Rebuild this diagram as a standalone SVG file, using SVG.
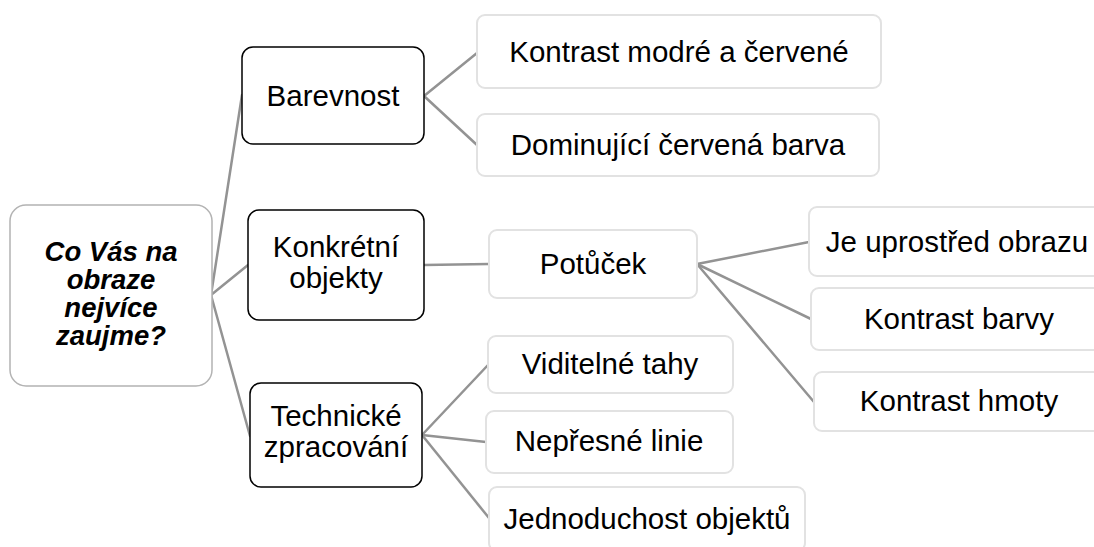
<svg xmlns="http://www.w3.org/2000/svg" width="1094" height="547" viewBox="0 0 1094 547">
<style>
.bg{fill:#ffffff}
.root{fill:#ffffff;stroke:#b3b3b3;stroke-width:1.5}
.dark{fill:#ffffff;stroke:#000000;stroke-width:1.5}
.light{fill:#ffffff;stroke:#e2e2e2;stroke-width:2}
.t{font-family:"Liberation Sans",Arial,sans-serif;font-size:29.5px;fill:#000000;text-anchor:middle}
.rt{font-family:"Liberation Sans",Arial,sans-serif;font-size:27.5px;font-weight:bold;font-style:italic;fill:#000000;text-anchor:middle}
.conn line{stroke:#939393;stroke-width:2.5;stroke-linecap:round}
</style>
<rect class="bg" x="0" y="0" width="1094" height="547"/>
<g id="connectors" class="conn">
<line x1="211" y1="295" x2="242" y2="95"/>
<line x1="211" y1="295" x2="248" y2="265"/>
<line x1="211" y1="295" x2="250" y2="436"/>
<line x1="424" y1="96" x2="477" y2="53"/>
<line x1="424" y1="96" x2="477" y2="145"/>
<line x1="424" y1="265" x2="489" y2="264"/>
<line x1="697" y1="264" x2="809" y2="242"/>
<line x1="697" y1="264" x2="811" y2="319"/>
<line x1="697" y1="264" x2="814" y2="402"/>
<line x1="422" y1="435" x2="488" y2="365"/>
<line x1="422" y1="435" x2="486" y2="442"/>
<line x1="422" y1="435" x2="489" y2="518"/>
</g>
<g id="root">
<rect class="root" x="10" y="205" width="202" height="181" rx="16"/>
<text class="rt" x="111" y="261">Co Vás na</text>
<text class="rt" x="111" y="289">obraze</text>
<text class="rt" x="111" y="317">nejvíce</text>
<text class="rt" x="111" y="345">zaujme?</text>
</g>
<g id="barevnost">
<rect class="dark" x="242" y="47" width="182" height="97" rx="11"/>
<text class="t" x="333" y="106">Barevnost</text>
</g>
<g id="konkretni">
<rect class="dark" x="248" y="210" width="176" height="110" rx="11"/>
<text class="t" x="336" y="257">Konkrétní</text>
<text class="t" x="336" y="288">objekty</text>
</g>
<g id="technicke">
<rect class="dark" x="250" y="383" width="172" height="104" rx="11"/>
<text class="t" x="336" y="426">Technické</text>
<text class="t" x="336" y="457">zpracování</text>
</g>
<g id="kontrast-modre">
<rect class="light" x="477" y="15" width="404" height="73" rx="8"/>
<text class="t" x="679" y="62">Kontrast modré a červené</text>
</g>
<g id="dominujici">
<rect class="light" x="477" y="114" width="402" height="62" rx="8"/>
<text class="t" x="678" y="155">Dominující červená barva</text>
</g>
<g id="potucek">
<rect class="light" x="489" y="230" width="208" height="68" rx="8"/>
<text class="t" x="593" y="274">Potůček</text>
</g>
<g id="je-uprostred">
<rect class="light" x="809" y="207" width="300" height="69" rx="8"/>
<text class="t" x="957" y="252">Je uprostřed obrazu</text>
</g>
<g id="kontrast-barvy">
<rect class="light" x="811" y="288" width="300" height="62" rx="8"/>
<text class="t" x="959" y="329">Kontrast barvy</text>
</g>
<g id="kontrast-hmoty">
<rect class="light" x="814" y="372" width="300" height="59" rx="8"/>
<text class="t" x="959" y="411">Kontrast hmoty</text>
</g>
<g id="viditelne">
<rect class="light" x="488" y="336" width="245" height="57" rx="8"/>
<text class="t" x="610" y="374">Viditelné tahy</text>
</g>
<g id="nepresne">
<rect class="light" x="486" y="411" width="247" height="62" rx="8"/>
<text class="t" x="609" y="451">Nepřesné linie</text>
</g>
<g id="jednoduchost">
<rect class="light" x="489" y="487" width="316" height="64" rx="8"/>
<text class="t" x="647" y="529">Jednoduchost objektů</text>
</g>
</svg>
